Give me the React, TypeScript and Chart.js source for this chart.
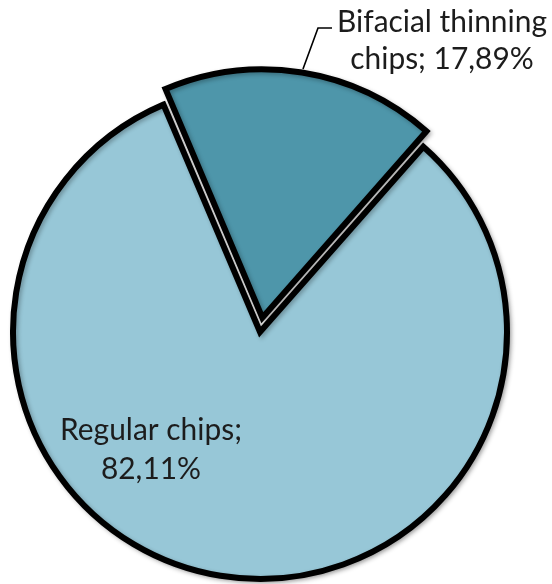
import React, { useEffect, useRef } from "react";
import { Chart, registerables } from "chart.js";

Chart.register(...registerables);

const categories = ["Bifacial thinning chips", "Regular chips"];
const values = [17.89, 82.11];
const valueLabels = ["17,89%", "82,11%"];
const sliceColors = ["#4E96AA", "#97C7D7"];
const sliceOffsets = [58, 0];

export default function App() {
  const ref = useRef<HTMLCanvasElement>(null);

  useEffect(() => {
    if (!ref.current) return;
    const family = "Lato, 'Open Sans', 'Noto Sans', sans-serif";

    const labelPlugin = {
      id: "sliceLabels",
      beforeDatasetsDraw(chart: any) {
        const ctx = chart.ctx;
        ctx.save();
        ctx.shadowColor = "rgba(0,0,0,0.28)";
        ctx.shadowBlur = 4;
        ctx.shadowOffsetX = 2;
        ctx.shadowOffsetY = 2;
      },
      afterDatasetsDraw(chart: any) {
        const ctx = chart.ctx;
        ctx.restore();
        const meta = chart.getDatasetMeta(0);
        const cx = meta.data[1].x;
        const cy = meta.data[1].y;
        ctx.save();
        ctx.font = `100px ${family}`;
        const w = ctx.measureText("Bifacial thinning").width;
        const size = (100 * 210) / w;
        ctx.font = `${size}px ${family}`;
        ctx.fillStyle = "#1c1c1c";
        ctx.textAlign = "center";
        ctx.textBaseline = "alphabetic";

        const bif = categories[0].split(" ");
        const l1 = bif.slice(0, 2).join(" ");
        const l2 = `${bif.slice(2).join(" ")}; ${valueLabels[0]}`;
        ctx.fillText(l1, cx + 182, cy - 300);
        ctx.fillText(l2, cx + 182, cy - 263);

        ctx.fillText(`${categories[1]};`, cx - 109, cy + 108);
        ctx.fillText(valueLabels[1], cx - 109, cy + 147);

        ctx.strokeStyle = "#000";
        ctx.lineWidth = 1.6;
        ctx.beginPath();
        ctx.moveTo(cx + 72, cy - 304);
        ctx.lineTo(cx + 58, cy - 304);
        ctx.lineTo(cx + 43, cy - 263);
        ctx.stroke();
        ctx.restore();
      },
    };

    const chart = new Chart(ref.current, {
      type: "pie",
      data: {
        labels: categories,
        datasets: [
          {
            data: values,
            backgroundColor: sliceColors,
            borderColor: "#000000",
            borderWidth: 6,
            borderJoinStyle: "miter",
            offset: sliceOffsets,
          } as any,
        ],
      },
      options: {
        responsive: false,
        animation: false,
        rotation: -23,
        radius: 247,
        layout: { padding: { left: 0, right: 32, top: 80, bottom: 0 } },
        plugins: {
          legend: { display: false },
          title: { display: false },
          tooltip: { enabled: false },
        },
      } as any,
      plugins: [labelPlugin],
    });

    return () => chart.destroy();
  }, []);

  return (
    <div style={{ position: "absolute", left: 0, top: 0, width: 552, height: 584, background: "#fff" }}>
      <canvas ref={ref} width={552} height={584} />
    </div>
  );
}
